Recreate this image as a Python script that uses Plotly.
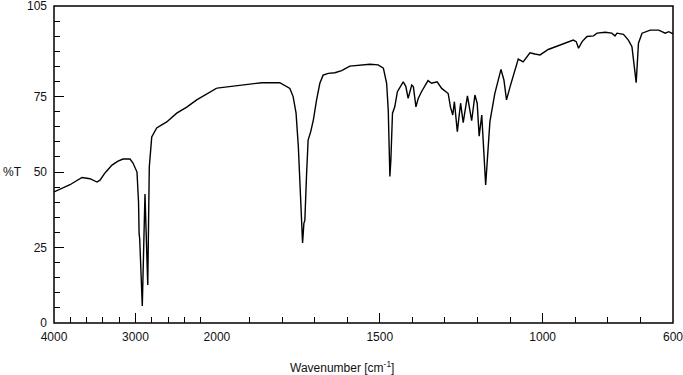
import plotly.graph_objects as go

# Spectrum: wavenumber (cm^-1) and %T
wavenumber = [4000, 3804, 3656, 3558, 3472, 3435, 3374, 3288, 3214, 3153, 3067, 3030, 2981,
              2962, 2955, 2948, 2916, 2883, 2849, 2830, 2800, 2739, 2677, 2616, 2493, 2370,
              2248, 2086, 2000,
              1929, 1862, 1807, 1776, 1766, 1757, 1750, 1743, 1737, 1733, 1730, 1725, 1720,
              1712, 1704, 1694, 1684, 1674, 1658, 1638, 1617, 1592, 1561, 1530, 1505, 1489,
              1479, 1474, 1469, 1466, 1461, 1454, 1446, 1438, 1428, 1420, 1413, 1402, 1397,
              1389, 1382, 1372, 1352, 1341, 1324, 1310, 1295, 1290, 1283, 1276, 1271, 1262,
              1252, 1244, 1231, 1218, 1208, 1201, 1195, 1187, 1175, 1162, 1147, 1128, 1119,
              1111, 1100, 1090, 1075, 1060, 1044, 1039, 1024, 1008, 983, 962, 931, 906, 897,
              890, 879, 864, 844, 833, 808, 788, 778, 772, 752, 737, 726, 721, 713, 706, 695,
              670, 644, 634, 624, 613, 603, 600]
transmittance = [43.4, 45.8, 48.2, 47.8, 46.7, 47.3, 49.7, 52.3, 53.6, 54.3, 54.3, 53.0, 50.0,
                 40.0, 29.5, 28.0, 5.6, 42.7, 12.6, 51.7, 61.6, 64.6, 65.6, 66.6, 69.5, 71.5,
                 73.9, 76.5, 77.8,
                 78.6, 79.6, 79.6, 77.7, 75.0, 69.5, 58.4, 43.0, 26.5, 33.0, 34.0, 48.5, 60.6,
                 63.4, 67.2, 73.9, 79.4, 82.1, 82.7, 82.9, 83.6, 85.1, 85.5, 85.7, 85.5, 84.4,
                 79.4, 70.5, 48.5, 54.0, 69.5, 71.6, 76.6, 78.3, 79.9, 78.3, 74.4, 78.8, 78.3,
                 71.6, 74.4, 76.6, 80.3, 79.4, 79.9, 77.7, 76.6, 76.0, 71.5, 68.9, 73.3, 63.4,
                 72.8, 66.4, 75.2, 67.0, 75.5, 72.8, 61.9, 68.9, 45.7, 66.7, 76.0, 84.0, 80.5,
                 73.9, 78.3, 82.1, 87.4, 86.5, 88.5, 89.5, 89.1, 88.8, 90.6, 91.5, 92.8, 93.7, 93.2,
                 91.0, 93.2, 94.9, 95.1, 96.0, 96.3, 96.0, 95.1, 96.0, 95.6, 93.7, 91.5, 87.1, 79.6, 92.7, 96.0,
                 97.0, 97.0, 96.5, 96.0, 96.5, 96.0, 95.8]

high_ticks = [4000, 3000, 2000]
low_ticks = [1500, 1000, 600]
y_ticks = [0, 25, 50, 75, 105]
x_title = "Wavenumber [cm<sup>-1</sup>]"
y_title = "%T"

# split at the scale break (2000 cm^-1)
hi = [(w, t) for w, t in zip(wavenumber, transmittance) if w >= 2000]
lo = [(w, t) for w, t in zip(wavenumber, transmittance) if w <= 2000]

line = dict(color="black", width=1.4)
fig = go.Figure()
fig.add_trace(go.Scatter(x=[p[0] for p in hi], y=[p[1] for p in hi], mode="lines",
                         line=line, xaxis="x", yaxis="y", showlegend=False))
fig.add_trace(go.Scatter(x=[p[0] for p in lo], y=[p[1] for p in lo], mode="lines",
                         line=line, xaxis="x2", yaxis="y", showlegend=False))

font = dict(family="Liberation Sans, Arial, sans-serif", size=12, color="#111")
brk = 500 / 1900

common_x = dict(showgrid=False, zeroline=False, showline=False, ticks="inside",
                ticklen=10, tickwidth=1.2, tickcolor="black", tickfont=font,
                anchor="y", ticklabelstandoff=5, automargin=False,
                ticklabeloverflow="allow")

fig.update_layout(
    width=683, height=375,
    margin=dict(l=54, r=10, t=6, b=52, autoexpand=False),
    paper_bgcolor="white", plot_bgcolor="white",
    font=font,
    xaxis=dict(domain=[0, brk], range=[4000.01, 1999.99], tickmode="array", tickvals=high_ticks,
               minor=dict(tickmode="linear", tick0=0, dtick=200, ticks="inside",
                          ticklen=6, tickwidth=1.2, tickcolor="black"),
               **common_x),
    xaxis2=dict(domain=[brk, 1], range=[2000, 599.99], tickmode="array", tickvals=low_ticks,
                minor=dict(tickmode="linear", tick0=0, dtick=100, ticks="inside",
                           ticklen=6, tickwidth=1.2, tickcolor="black"),
                **common_x),
    yaxis=dict(range=[-0.001, 105.001], tickmode="array", tickvals=y_ticks, showgrid=False,
               zeroline=False, showline=False, ticks="inside", ticklen=10, tickwidth=1.2,
               tickcolor="black", tickfont=font, ticklabelstandoff=6, automargin=False,
               ticklabeloverflow="allow",
               minor=dict(tickmode="linear", tick0=0, dtick=5, ticks="inside",
                          ticklen=6, tickwidth=1.2, tickcolor="black")),
    shapes=[dict(type="rect", xref="paper", yref="paper", x0=0, x1=1, y0=0, y1=1,
                 line=dict(color="black", width=1.5), fillcolor="rgba(0,0,0,0)")],
    annotations=[
        dict(text=x_title, xref="paper", yref="paper", x=(341.5 - 54) / 619, y=0,
             yshift=-44, xanchor="center", yanchor="middle", showarrow=False, font=font),
        dict(text=y_title, xref="paper", yref="y", x=(1 - 54) / 619, y=50,
             xanchor="left", yanchor="middle", showarrow=False, font=font),
    ],
)

fig.write_html("out.html", config={"displayModeBar": False},
               post_script="document.body.style.margin='0px';document.body.style.overflow='hidden';")
